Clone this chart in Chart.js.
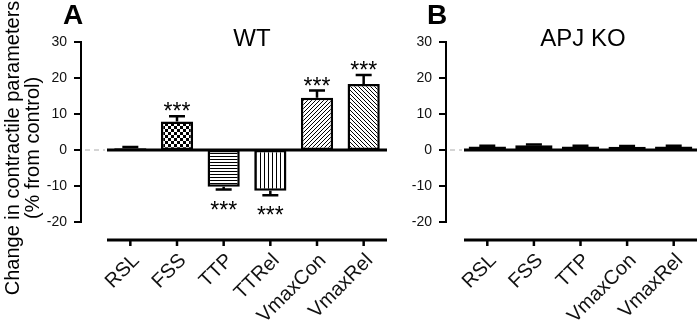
<!DOCTYPE html>
<html>
<head>
<meta charset="utf-8">
<script src="https://cdn.jsdelivr.net/npm/chart.js@4.4.1/dist/chart.umd.min.js"></script>
<style>
  body { margin: 0; background: #fff; }
  #wrap { position: relative; width: 700px; height: 322px; overflow: hidden; }
  #chartA { position: absolute; left: 0; top: 0; }
  #chartB { position: absolute; left: 395px; top: 0; }
</style>
</head>
<body>
<div id="wrap">
  <canvas id="chartA" width="395" height="322"></canvas>
  <canvas id="chartB" width="305" height="322"></canvas>
</div>
<script>
// data
const wtLabels = ['RSL', 'FSS', 'TTP', 'TTRel', 'VmaxCon', 'VmaxRel'];
const wtValues = [0.5, 7.9, -10.2, -11.3, 14.5, 18.3];
const wtErrors = [0.3, 1.5, 0.8, 1.3, 2.0, 2.5];
const wtStars = ['', '***', '***', '***', '***', '***'];

const koLabels = ['RSL', 'FSS', 'TTP', 'VmaxCon', 'VmaxRel'];
const koValues = [1.0, 1.3, 1.0, 0.9, 1.0];
const koErrors = [0.2, 0.2, 0.2, 0.2, 0.2];
const koStars = ['', '', '', '', ''];

const yTicks = [-20, -10, 0, 10, 20, 30];
const yTitle = ['Change in contractile parameters', '(% from control)'];

Chart.defaults.font.family = "'Liberation Sans', Arial, sans-serif";
Chart.defaults.color = '#111';

// fill patterns like the prism bars
function pattern(kind) {
  const c = document.createElement('canvas');
  const g = c.getContext('2d');
  if (kind === 'check') {
    c.width = 6; c.height = 6;
    g.fillStyle = '#fff'; g.fillRect(0, 0, 6, 6);
    g.fillStyle = '#000'; g.fillRect(0, 0, 3, 3); g.fillRect(3, 3, 3, 3);
  } else if (kind === 'hline') {
    c.width = 4; c.height = 3;
    g.fillStyle = '#fff'; g.fillRect(0, 0, 4, 3);
    g.fillStyle = '#000'; g.fillRect(0, 0, 4, 1);
  } else if (kind === 'vline') {
    c.width = 4; c.height = 4;
    g.fillStyle = '#fff'; g.fillRect(0, 0, 4, 4);
    g.fillStyle = '#000'; g.fillRect(0, 0, 1, 4);
  } else if (kind === 'fwd' || kind === 'back') {
    c.width = 4; c.height = 4;
    g.fillStyle = '#fff'; g.fillRect(0, 0, 4, 4);
    g.fillStyle = '#000';
    for (let i = 0; i < 4; i++) {
      const x = kind === 'fwd' ? 3 - i : i;
      g.fillRect(x, i, 1, 1);
    }
  } else {
    c.width = 2; c.height = 2;
    g.fillStyle = '#000'; g.fillRect(0, 0, 2, 2);
  }
  return g.createPattern(c, 'repeat');
}

const deco = {
  id: 'deco',
  afterDatasetsDraw(chart, args, o) {
    const ctx = chart.ctx, ys = chart.scales.y, a = chart.chartArea;
    const meta = chart.getDatasetMeta(0);
    const y0 = ys.getPixelForValue(0);
    const ax = a.left - o.axisGap;
    ctx.save();
    ctx.strokeStyle = '#000';
    ctx.fillStyle = '#000';

    // error bars + stars
    ctx.lineWidth = 2.5;
    meta.data.forEach((bar, i) => {
      const v = o.values[i], e = o.errors[i];
      const dir = v >= 0 ? 1 : -1;
      const base = ys.getPixelForValue(v);
      const end = ys.getPixelForValue(v + dir * e);
      ctx.beginPath();
      ctx.moveTo(bar.x, base); ctx.lineTo(bar.x, end);
      ctx.moveTo(bar.x - o.cap, end); ctx.lineTo(bar.x + o.cap, end);
      ctx.stroke();
      if (o.stars[i]) {
        ctx.font = "23px 'Liberation Sans', Arial, sans-serif";
        ctx.textAlign = 'center';
        ctx.textBaseline = 'alphabetic';
        const ty = dir > 0 ? end + 3 : end + 28;
        ctx.fillText(o.stars[i], bar.x, ty);
      }
    });

    // zero baseline
    ctx.lineWidth = 3;
    ctx.beginPath(); ctx.moveTo(a.left, y0); ctx.lineTo(a.right, y0); ctx.stroke();
    ctx.save();
    ctx.strokeStyle = '#aaa'; ctx.lineWidth = 1; ctx.setLineDash([5, 4]);
    ctx.beginPath(); ctx.moveTo(ax - 5, y0); ctx.lineTo(a.left - 2, y0); ctx.stroke();
    ctx.restore();

    // y axis with outside ticks
    const yTop = ys.getPixelForValue(yTicks[yTicks.length - 1]);
    const yBot = ys.getPixelForValue(yTicks[0]);
    ctx.lineWidth = 2;
    ctx.beginPath(); ctx.moveTo(ax, yTop - 1); ctx.lineTo(ax, yBot + 1); ctx.stroke();
    yTicks.forEach(t => {
      const p = ys.getPixelForValue(t);
      ctx.beginPath(); ctx.moveTo(ax - 7, p); ctx.lineTo(ax, p); ctx.stroke();
    });

    // detached x axis
    ctx.lineWidth = 3;
    ctx.beginPath(); ctx.moveTo(a.left, a.bottom); ctx.lineTo(a.right, a.bottom); ctx.stroke();
    ctx.lineWidth = 2.5;
    meta.data.forEach(bar => {
      ctx.beginPath(); ctx.moveTo(bar.x, a.bottom); ctx.lineTo(bar.x, a.bottom + 6); ctx.stroke();
    });

    // panel letter and group name
    ctx.textBaseline = 'alphabetic';
    ctx.textAlign = 'left';
    ctx.font = "bold 28px 'Liberation Sans', Arial, sans-serif";
    ctx.fillText(o.letter, o.letterX, 24);
    ctx.textAlign = 'center';
    ctx.font = "24px 'Liberation Sans', Arial, sans-serif";
    ctx.fillText(o.group, o.groupX, 46);

    // y title, two rotated lines
    if (o.title) {
      ctx.font = "20px 'Liberation Sans', Arial, sans-serif";
      ctx.textBaseline = 'middle';
      o.title.forEach((line, i) => {
        ctx.save();
        ctx.translate(13 + i * 20, 148);
        ctx.rotate(-Math.PI / 2);
        ctx.fillText(line, 0, 0);
        ctx.restore();
      });
    }
    ctx.restore();
  }
};

function makePanel(id, labels, values, errors, stars, fills, p) {
  return new Chart(document.getElementById(id), {
    type: 'bar',
    data: {
      labels: labels,
      datasets: [{
        data: values,
        backgroundColor: fills,
        borderColor: '#000',
        borderWidth: 2.5,
        borderSkipped: false,
        barPercentage: p.barPct,
        categoryPercentage: 1
      }]
    },
    options: {
      responsive: false,
      animation: false,
      devicePixelRatio: 1,
      layout: { padding: { left: 0, top: 42, right: p.padRight, bottom: 0 } },
      plugins: {
        legend: { display: false },
        tooltip: { enabled: false },
        deco: {
          values: values, errors: errors, stars: stars, cap: 8,
          axisGap: p.axisGap, letter: p.letter, letterX: p.letterX,
          group: p.group, groupX: p.groupX, title: p.title
        }
      },
      scales: {
        x: {
          offset: true,
          afterFit: s => { s.height = 82; },
          grid: { display: false, drawTicks: false },
          border: { display: false },
          ticks: { autoSkip: false, minRotation: 45, maxRotation: 45, padding: 9, labelOffset: 6, font: { size: 20 } }
        },
        y: {
          min: -25,
          max: 30,
          afterFit: s => { s.width = p.yWidth; s.paddingTop = 0; s.paddingBottom = 0; },
          afterBuildTicks: s => { s.ticks = yTicks.map(v => ({ value: v })); },
          grid: { display: false, drawTicks: false },
          border: { display: false },
          ticks: { padding: p.tickPad, font: { size: 14 } }
        }
      }
    },
    plugins: [deco]
  });
}

makePanel('chartA', wtLabels, wtValues, wtErrors, wtStars,
  [pattern('solid'), pattern('check'), pattern('hline'), pattern('vline'), pattern('fwd'), pattern('back')],
  { barPct: 0.69, padRight: 8, yWidth: 107, tickPad: 40, axisGap: 26, title: yTitle,
    letter: 'A', letterX: 63, group: 'WT', groupX: 252 });

makePanel('chartB', koLabels, koValues, koErrors, koStars,
  koValues.map(() => '#000'),
  { barPct: 0.8, padRight: 3, yWidth: 69, tickPad: 32, axisGap: 18, title: null,
    letter: 'B', letterX: 32, group: 'APJ KO', groupX: 188 });
</script>
</body>
</html>
